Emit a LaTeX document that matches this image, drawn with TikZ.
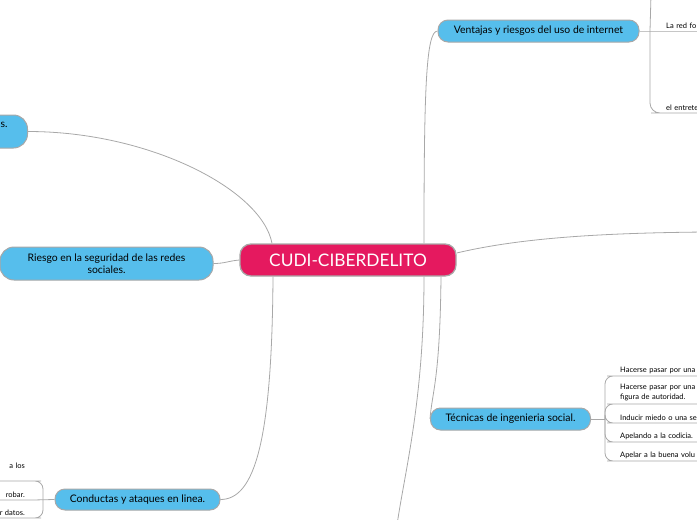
\documentclass[tikz,border=0pt]{standalone}
\usepackage{fontspec}
\setmainfont{Lato}
\usetikzlibrary{backgrounds}
\definecolor{rootpink}{HTML}{E5195F}
\definecolor{topicblue}{HTML}{56BEEC}
\definecolor{edgegray}{HTML}{A8A8A8}
\begin{document}
\begin{tikzpicture}[x=1pt, y=-1pt,
    root/.style={rectangle, draw=edgegray, line width=1.3pt, fill=rootpink, text=white, rounded corners=11pt, minimum width=216pt, minimum height=32pt, font=\fontsize{17.3}{19}\selectfont},
    topic/.style={rectangle, draw=edgegray, line width=1pt, fill=topicblue, rounded corners=10pt, align=center, inner sep=0pt, font=\fontsize{10.4}{12.5}\selectfont},
    leaf/.style={anchor=south west, inner xsep=5pt, inner ysep=2.5pt, text width=90pt, align=left, font=\fontsize{7.5}{10}\selectfont},
    leafl/.style={leaf, anchor=south east, inner xsep=8pt, align=right},
    line/.style={draw=edgegray, line width=0.8pt}]
    \useasboundingbox (0,0) rectangle (697,520);

    \node [root] (root) at (348,260) {CUDI-CIBERDELITO};
    \node [topic, minimum width=201pt, minimum height=22pt] (vent) at (538.5,31) {Ventajas y riesgos del uso de internet};
    \node [topic, minimum width=127pt, minimum height=33pt, rounded corners=14pt, text width=87pt, align=right] (tl) at (-36,131.5) {s.\\\mbox{}};
    \node [topic, minimum width=213pt, minimum height=33pt, rounded corners=14pt] (riesgo) at (106.5,263.5) {Riesgo en la seguridad de las redes\\sociales.};
    \node [topic, minimum width=165pt, minimum height=21pt] (conduc) at (137.5,499.5) {Conductas y ataques en linea.};
    \node [topic, minimum width=160pt, minimum height=22pt] (tec) at (510.5,419) {Técnicas de ingenieria social.};

    % ventajas
    \coordinate (vj) at (650,31);
    \coordinate (vup) at (651,-5);
    \node [leaf] (v1) at (661,31) {La red fo};
    \node [leaf] (v2) at (661,113) {el entrete};

    % tecnicas
    \coordinate (tj) at (605,419);
    \node [leaf] (t1) at (615,376) {Hacerse pasar por una};
    \node [leaf] (t2) at (615,404) {Hacerse pasar por una\\figura de autoridad.};
    \node [leaf] (t3) at (615,423) {Inducir miedo o una se};
    \node [leaf] (t4) at (615,442) {Apelando a la codicia.};
    \node [leaf] (t5) at (615,461) {Apelar a la buena volu};

    % conductas
    \coordinate (cj) at (43,500);
    \node [leafl] (c1) at (33,481) {a los\\\mbox{}};
    \node [leafl] (c2) at (33,500) {robar.};
    \node [leafl] (c3) at (33,518) {r datos.};

    \coordinate (bot) at (397,525);
    \coordinate (rgt) at (705,232);

    \begin{scope}[on background layer]
    \path [line] ([xshift=76pt]root.north) .. controls (424,90) and (426,31) .. (vent.west);
    \path [line] ([xshift=-76pt]root.north) .. controls (262,190) and (150,131.5) .. (tl.east);
    \path [line] (root.west) .. controls (228,261) and (225,263.5) .. (riesgo.east);
    \path [line] ([xshift=-75pt]root.south) .. controls (272,440) and (255,499.5) .. (conduc.east);
    \path [line] ([xshift=93pt]root.south) .. controls (440,380) and (432,392) .. (tec.west);
    \path [line] ([xshift=76pt]root.south) .. controls (424,400) and (405,470) .. (bot);
    \path [line] ([yshift=7pt]root.east) .. controls (520,238) and (600,233) .. (rgt);

    \path [line] (vent.east) -- (v1.south west) -- (v1.south east);
    \path [line] (vj) -- (vup);
    \path [line, rounded corners=10pt] (vj) |- (v2.south west) -- (v2.south east);

    \path [line] (tec.east) -- (tj);
    \foreach \t in {t1,t2,t3,t4,t5}
        \path [line, rounded corners=8pt] (tj) |- (\t.south west) -- (\t.south east);

    \path [line] (conduc.west) -- (c2.south east) -- (c2.south west);
    \path [line, rounded corners=8pt] (cj) |- (c1.south east) -- (c1.south west);
    \path [line, rounded corners=8pt] (cj) |- (c3.south east) -- (c3.south west);
    \end{scope}
\end{tikzpicture}
\end{document}
